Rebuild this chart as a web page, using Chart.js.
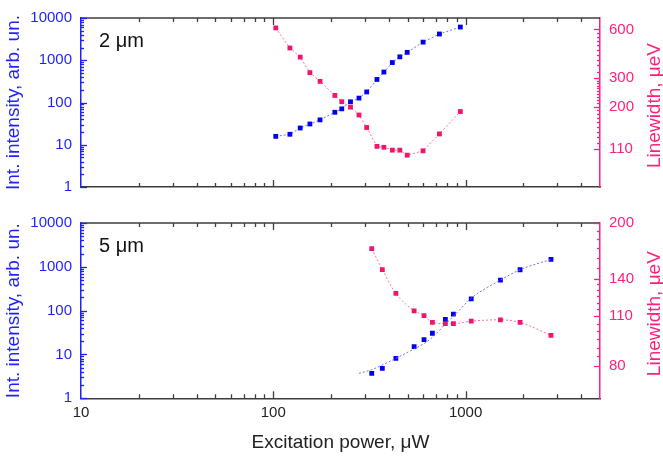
<!DOCTYPE html>
<html><head><meta charset="utf-8">
<script src="https://cdn.jsdelivr.net/npm/chart.js@4"></script>
<style>
html,body{margin:0;padding:0;background:#fff;width:663px;height:460px;overflow:hidden}
#w1{position:absolute;left:0;top:0;width:663px;height:205px}
#w2{position:absolute;left:0;top:205px;width:663px;height:255px}
</style></head><body>
<div id="w1"><canvas id="c1" width="663" height="205"></canvas></div>
<div id="w2"><canvas id="c2" width="663" height="255"></canvas></div>
<script>
// ---------- data ----------
const xTickLabels = [10, 100, 1000];
const leftTickLabels = [1, 10, 100, 1000, 10000];
const topRightTickLabels = [110, 200, 300, 600];
const bottomRightTickLabels = [80, 110, 140, 200];

const topPower     = [103, 122, 138, 155, 175, 209, 227, 252, 279, 306, 346, 376, 416, 455, 497, 601, 731, 939];
const topIntensity = [15.8, 17.7, 24.9, 31, 38.8, 58.7, 70.8, 104, 127, 178, 351, 526, 882, 1203, 1538, 2684, 4182, 6110];
const topLinewidth = [613, 461, 405, 325, 287, 235, 215, 199, 178, 149, 114, 112.5, 108, 108, 100.6, 107, 136, 187];

const bottomPower     = [325, 369, 434, 540, 608, 672, 785, 864, 1070, 1518, 1920, 2780];
const bottomIntensity = [3.71, 4.84, 8.17, 15.1, 21.9, 30.5, 62.9, 82.9, 186, 499, 858, 1476];
const bottomLinewidth = [169.7, 148.4, 127.4, 113.9, 110.5, 105.7, 104.9, 104.9, 106.6, 107.5, 105.7, 97.3];

const bottomFitPower     = [279, 325, 369, 434, 540, 608, 672, 785, 864, 1070, 1518, 1920, 2780];
const bottomFitIntensity = [3.71, 4.5, 5.78, 8.17, 13.4, 17.7, 24.6, 49.2, 74, 192, 499, 858, 1476];

// ---------- styles ----------
const FONT = "'Liberation Sans', Arial, sans-serif";
const BLUE = '#1f1fff', PINK = '#ff1f7f';
const BLUE_PT = '#0000ee', PINK_PT = '#f0146e';
const BLUE_LN = '#7070ff', PINK_LN = '#ff6ea6';
const FRAME = '#3c3c3c';

// minor tick positions (decoration)
const xMinor = [];
[10, 100, 1000].forEach(d => { for (let k = 2; k <= 9; k++) if (d * k < 5000) xMinor.push(d * k); });
const leftMinor = [];
[1, 10, 100, 1000].forEach(d => { for (let k = 2; k <= 9; k++) leftMinor.push(d * k); });
const topRightMinor = [];
for (let v = 120; v < 300; v += 10) if (v !== 200) topRightMinor.push(v);
for (let v = 330; v < 600; v += 30) topRightMinor.push(v);
const bottomRightMinor = [];
for (let v = 85; v < 140; v += 5) if (v !== 110) bottomRightMinor.push(v);
for (let v = 150; v < 200; v += 10) bottomRightMinor.push(v);

const pts = (xs, ys) => xs.map((x, i) => ({x, y: ys[i]}));

function framePlugin(o) {
  return {
    id: 'frame' + o.name,
    afterDraw(chart) {
      const {ctx, chartArea: a, scales} = chart;
      const x = scales.x, y = scales.y, y1 = scales.y1;
      const line = (x0, y0, x1, y1_) => { ctx.beginPath(); ctx.moveTo(x0, y0); ctx.lineTo(x1, y1_); ctx.stroke(); };
      ctx.save();
      ctx.strokeStyle = FRAME; ctx.lineWidth = 1.5;
      line(a.left, a.top, a.right, a.top);
      ctx.lineWidth = 1.3;
      xTickLabels.forEach(v => {
        if (v === 10) return;
        const p = Math.round(x.getPixelForValue(v)) + 0.5;
        line(p, a.top, p, a.top + 7); line(p, a.bottom, p, a.bottom - 7);
      });
      xMinor.forEach(v => {
        const p = Math.round(x.getPixelForValue(v)) + 0.5;
        line(p, a.top, p, a.top + 4); line(p, a.bottom, p, a.bottom - 4);
      });
      ctx.strokeStyle = BLUE;
      leftTickLabels.forEach(v => { const p = Math.round(y.getPixelForValue(v)) + 0.5; line(a.left, p, a.left + 6, p); });
      leftMinor.forEach(v => { const p = Math.round(y.getPixelForValue(v)) + 0.5; line(a.left, p, a.left + 3, p); });
      ctx.strokeStyle = PINK;
      o.rightMajor.forEach(v => { const p = Math.round(y1.getPixelForValue(v)) + 0.5; line(a.right, p, a.right - 6, p); });
      o.rightMinor.forEach(v => { const p = Math.round(y1.getPixelForValue(v)) + 0.5; line(a.right, p, a.right - 3, p); });
      // panel label
      ctx.fillStyle = '#111';
      ctx.font = '20px ' + FONT;
      ctx.textAlign = 'left'; ctx.textBaseline = 'middle';
      ctx.fillText(o.label, a.left + 18, a.top + 23);
      // right axis title (reads bottom to top)
      ctx.fillStyle = PINK;
      ctx.font = '19px ' + FONT;
      ctx.translate(655, (a.top + a.bottom) / 2 + 3);
      ctx.rotate(-Math.PI / 2);
      ctx.textAlign = 'center';
      ctx.fillText('Linewidth, \u03bceV', 0, 0);
      ctx.restore();
    }
  };
}

function makeChart(id, o) {
  return new Chart(document.getElementById(id), {
    type: 'scatter',
    data: {datasets: o.datasets},
    options: {
      responsive: false, animation: false, devicePixelRatio: 1,
      layout: {padding: {top: o.padTop, left: 0, right: 0, bottom: 0}},
      plugins: {legend: {display: false}, tooltip: {enabled: false}},
      scales: {
        x: {
          type: 'logarithmic', position: 'bottom', min: 10, max: 5000,
          afterBuildTicks: s => { s.ticks = xTickLabels.map(v => ({value: v})); },
          afterFit: s => { s.height = o.xHeight; },
          grid: {display: false, drawTicks: false},
          border: {color: FRAME, width: 1.5},
          ticks: {display: o.showX, autoSkip: false, maxRotation: 0, color: '#222', padding: 6,
                  font: {size: 15, family: FONT}, callback: v => String(v)},
          title: {display: o.showX, text: 'Excitation power, \u03bcW', color: '#222',
                  font: {size: 19, family: FONT}, padding: {top: 0, bottom: 5.5}}
        },
        y: {
          type: 'logarithmic', position: 'left', min: 1, max: 10000,
          afterBuildTicks: s => { s.ticks = leftTickLabels.map(v => ({value: v})); },
          afterFit: s => { s.width = 81; },
          grid: {display: false, drawTicks: false},
          border: {color: BLUE, width: 1.5},
          ticks: {autoSkip: false, color: BLUE, padding: 9, font: {size: 15, family: FONT}, callback: v => String(v)},
          title: {display: true, text: 'Int. intensity, arb. un.', color: BLUE,
                  font: {size: 19, family: FONT}, padding: {top: 2, bottom: 0}}
        },
        y1: {
          type: 'logarithmic', position: 'right', min: o.rMin, max: o.rMax,
          afterBuildTicks: s => { s.ticks = o.rightMajor.map(v => ({value: v})); },
          afterFit: s => { s.width = 63; },
          grid: {display: false, drawTicks: false},
          border: {color: PINK, width: 1.5},
          ticks: {autoSkip: false, color: PINK, padding: 9, font: {size: 15, family: FONT}, callback: v => String(v)}
        }
      }
    },
    plugins: [framePlugin(o)]
  });
}

const ptStyle = (c) => ({pointStyle: 'rect', pointRadius: 3.4, pointBackgroundColor: c, pointBorderColor: c, pointBorderWidth: 0});

makeChart('c1', {
  name: 'top', padTop: 10, xHeight: 8, showX: false, label: '2 \u03bcm',
  rMin: 64, rMax: 706, rightMajor: topRightTickLabels, rightMinor: topRightMinor,
  datasets: [
    Object.assign({data: pts(topPower, topLinewidth), yAxisID: 'y1', showLine: true,
      borderColor: PINK_LN, borderWidth: 1, borderDash: [2, 2]}, ptStyle(PINK_PT)),
    Object.assign({data: pts(topPower, topIntensity), yAxisID: 'y', showLine: true,
      borderColor: BLUE_LN, borderWidth: 1, borderDash: [2, 2]}, ptStyle(BLUE_PT))
  ]
});

makeChart('c2', {
  name: 'bottom', padTop: 6.5, xHeight: 61.7, showX: true, label: '5 \u03bcm',
  rMin: 65, rMax: 200, rightMajor: bottomRightTickLabels, rightMinor: bottomRightMinor,
  datasets: [
    Object.assign({data: pts(bottomPower, bottomLinewidth), yAxisID: 'y1', showLine: true,
      borderColor: PINK_LN, borderWidth: 1, borderDash: [2, 2], cubicInterpolationMode: 'monotone'}, ptStyle(PINK_PT)),
    {data: pts(bottomFitPower, bottomFitIntensity), yAxisID: 'y', showLine: true, pointRadius: 0,
      borderColor: BLUE_LN, borderWidth: 1, borderDash: [2, 2], cubicInterpolationMode: 'monotone'},
    Object.assign({data: pts(bottomPower, bottomIntensity), yAxisID: 'y', showLine: false}, ptStyle(BLUE_PT))
  ]
});
</script>
</body></html>
